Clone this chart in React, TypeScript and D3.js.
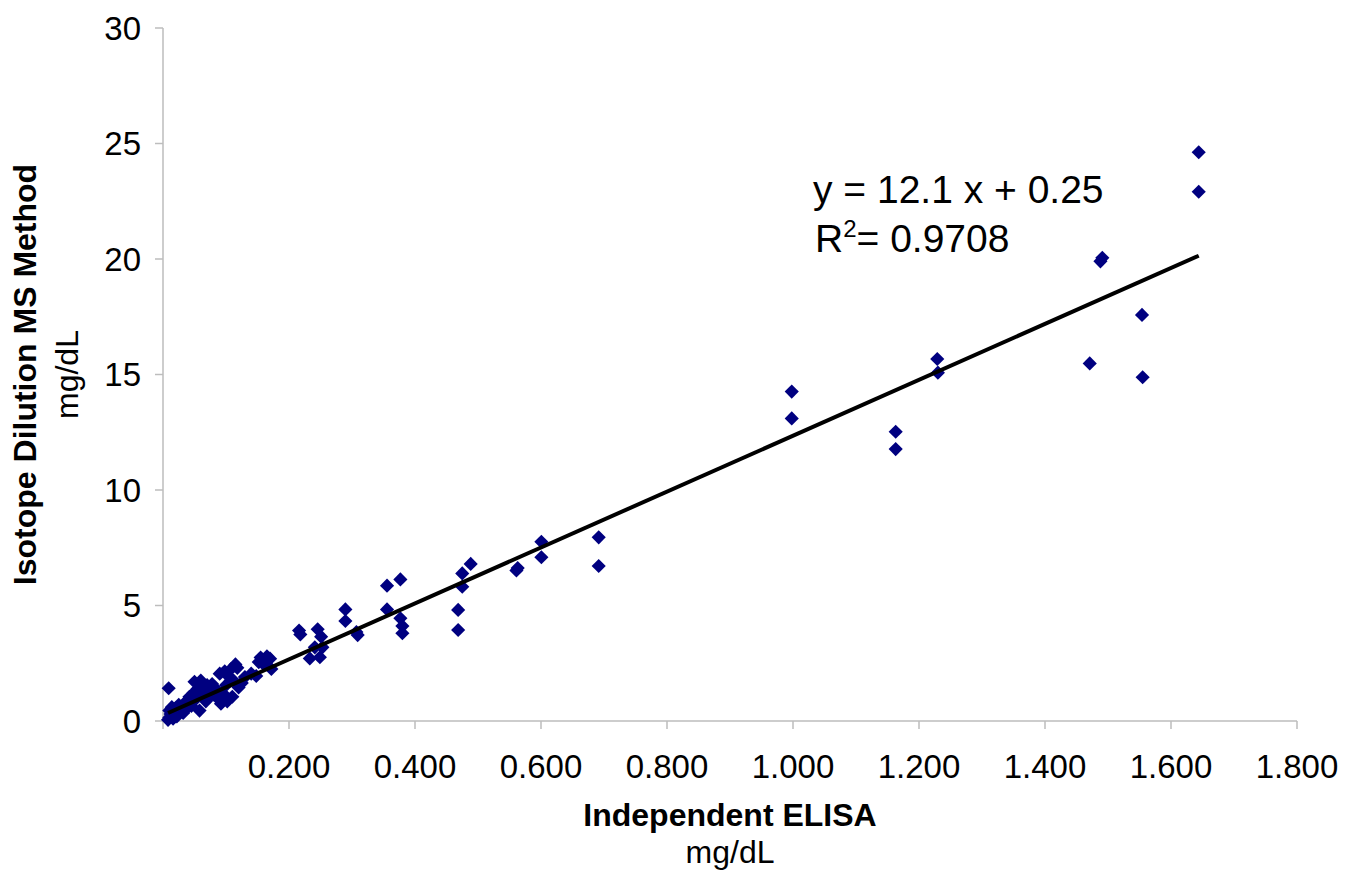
import React, { useRef, useEffect } from "react";
import * as d3 from "d3";

// ELISA (x) vs isotope dilution MS (y), mg/dL
const elisaValues = [
  0.008, 0.010, 0.012, 0.010, 0.014, 0.009, 0.016, 0.018, 0.020, 0.022,
  0.025, 0.027, 0.030, 0.032, 0.035, 0.038, 0.040, 0.042, 0.045, 0.048,
  0.050, 0.052, 0.055, 0.058, 0.060, 0.062, 0.065, 0.068, 0.070, 0.072,
  0.075, 0.078, 0.080, 0.085, 0.088, 0.090, 0.092, 0.095, 0.098, 0.100,
  0.102, 0.105, 0.108, 0.110, 0.112, 0.115, 0.118, 0.120, 0.125, 0.130,
  0.140, 0.148, 0.152, 0.155, 0.160, 0.165, 0.170, 0.172,
  0.216, 0.218, 0.233, 0.241, 0.2455, 0.249, 0.251, 0.253, 0.2895, 0.2895,
  0.307, 0.309, 0.3556, 0.3556, 0.3768, 0.3768, 0.380, 0.380, 0.4685, 0.4685,
  0.475, 0.475, 0.4884, 0.561, 0.563, 0.6006, 0.6006, 0.6916, 0.6916,
  0.998, 0.998, 1.163, 1.163, 1.229, 1.230, 1.471, 1.488, 1.491, 1.554,
  1.555, 1.644, 1.644,
];
const idmsValues = [
  0.05, 0.15, 0.30, 0.45, 0.60, 1.42, 0.10, 0.35, 0.55, 0.20,
  0.70, 0.45, 0.60, 0.35, 0.80, 0.55, 0.90, 1.05, 0.65, 1.20,
  1.70, 0.95, 1.40, 0.45, 1.75, 1.10, 1.30, 0.85, 1.55, 1.00,
  1.25, 1.60, 1.15, 1.35, 0.95, 2.05, 0.75, 1.20, 2.15, 1.55,
  0.85, 1.90, 2.25, 1.05, 1.75, 2.45, 2.30, 1.45, 1.65, 1.90,
  2.05, 1.95, 2.55, 2.75, 2.45, 2.80, 2.70, 2.25,
  3.92, 3.75, 2.71, 3.19, 3.97, 2.76, 3.65, 3.19, 4.83, 4.33,
  3.85, 3.72, 5.86, 4.83, 6.13, 4.45, 4.11, 3.80, 4.81, 3.94,
  6.39, 5.81, 6.80, 6.52, 6.62, 7.76, 7.09, 7.95, 6.71,
  14.26, 13.10, 12.52, 11.77, 15.67, 15.08, 15.48, 19.90, 20.05, 17.58,
  14.88, 24.62, 22.91,
];

// trend line as printed on the chart
const slope = 12.1;
const intercept = 0.25;
const rSquared = "0.9708";

const xTicks = [0, 0.2, 0.4, 0.6, 0.8, 1.0, 1.2, 1.4, 1.6, 1.8];
const yTicks = [0, 5, 10, 15, 20, 25, 30];

const FONT = "'Liberation Sans', Arial, Helvetica, sans-serif";

const App = () => {
  const svgRef = useRef<SVGSVGElement>(null);

  useEffect(() => {
    const width = 1363;
    const height = 882;

    const x = d3.scaleLinear().domain([0, 1.8]).range([163, 1297]);
    const y = d3.scaleLinear().domain([0, 30]).range([721, 28]);

    const svg = d3.select(svgRef.current);
    svg.selectAll("*").remove();
    svg
      .attr("width", width)
      .attr("height", height)
      .style("font-family", FONT);

    svg.append("rect").attr("width", width).attr("height", height).attr("fill", "#fff");

    const axisColor = "#bdbdbd";

    // y axis
    const yAxis = svg.append("g");
    yAxis
      .append("line")
      .attr("x1", x(0))
      .attr("x2", x(0))
      .attr("y1", y(0))
      .attr("y2", y(30))
      .attr("stroke", axisColor)
      .attr("stroke-width", 1.5);
    const yt = yAxis.selectAll("g.tick").data(yTicks).join("g").attr("class", "tick");
    yt.append("line")
      .attr("x1", x(0) - 8)
      .attr("x2", x(0))
      .attr("y1", (d) => y(d))
      .attr("y2", (d) => y(d))
      .attr("stroke", axisColor)
      .attr("stroke-width", 1.5);
    yt.append("text")
      .attr("x", 141)
      .attr("y", (d) => y(d))
      .attr("dy", "0.35em")
      .attr("text-anchor", "end")
      .attr("font-size", 33)
      .attr("fill", "#000")
      .text((d) => d);

    // x axis
    const xAxis = svg.append("g");
    xAxis
      .append("line")
      .attr("x1", x(0))
      .attr("x2", x(1.8))
      .attr("y1", y(0))
      .attr("y2", y(0))
      .attr("stroke", axisColor)
      .attr("stroke-width", 1.5);
    const xt = xAxis.selectAll("g.tick").data(xTicks).join("g").attr("class", "tick");
    xt.append("line")
      .attr("x1", (d) => x(d))
      .attr("x2", (d) => x(d))
      .attr("y1", y(0))
      .attr("y2", y(0) + 8)
      .attr("stroke", axisColor)
      .attr("stroke-width", 1.5);
    xt.filter((d) => d > 0)
      .append("text")
      .attr("x", (d) => x(d))
      .attr("y", 778)
      .attr("text-anchor", "middle")
      .attr("font-size", 33)
      .attr("fill", "#000")
      .text((d) => d3.format(".3f")(d));

    // points
    const points = elisaValues.map((v, i) => [v, idmsValues[i]]);
    const diamond = d3.symbol().type(d3.symbolSquare).size(100);
    svg
      .append("g")
      .selectAll("path")
      .data(points)
      .join("path")
      .attr("d", diamond)
      .attr("transform", (d) => `translate(${x(d[0])},${y(d[1])}) rotate(45)`)
      .attr("fill", "#000080");

    // trend line over the data range
    const [xMin, xMax] = d3.extent(elisaValues) as [number, number];
    svg
      .append("line")
      .attr("x1", x(xMin))
      .attr("y1", y(slope * xMin + intercept))
      .attr("x2", x(xMax))
      .attr("y2", y(slope * xMax + intercept))
      .attr("stroke", "#000")
      .attr("stroke-width", 4);

    // equation label
    svg
      .append("text")
      .attr("x", 813)
      .attr("y", 203)
      .attr("font-size", 39)
      .text(`y = ${slope} x + ${intercept}`);
    const r2 = svg.append("text").attr("x", 815).attr("y", 252).attr("font-size", 39);
    r2.append("tspan").text("R");
    r2.append("tspan").attr("font-size", 24).attr("dy", -15).text("2");
    r2.append("tspan").attr("dy", 15).text(`= ${rSquared}`);

    // axis titles
    svg
      .append("text")
      .attr("x", (x(0) + x(1.8)) / 2)
      .attr("y", 826)
      .attr("text-anchor", "middle")
      .attr("font-size", 32)
      .attr("font-weight", "bold")
      .text("Independent ELISA");
    svg
      .append("text")
      .attr("x", (x(0) + x(1.8)) / 2)
      .attr("y", 863)
      .attr("text-anchor", "middle")
      .attr("font-size", 32)
      .text("mg/dL");

    const yMid = (y(0) + y(30)) / 2;
    svg
      .append("text")
      .attr("transform", `translate(36,${yMid}) rotate(-90)`)
      .attr("text-anchor", "middle")
      .attr("font-size", 32)
      .attr("font-weight", "bold")
      .text("Isotope Dilution MS Method");
    svg
      .append("text")
      .attr("transform", `translate(78,${yMid}) rotate(-90)`)
      .attr("text-anchor", "middle")
      .attr("font-size", 32)
      .text("mg/dL");
  }, []);

  return <svg ref={svgRef} style={{ position: "absolute", left: 0, top: 0 }}></svg>;
};

export default App;
